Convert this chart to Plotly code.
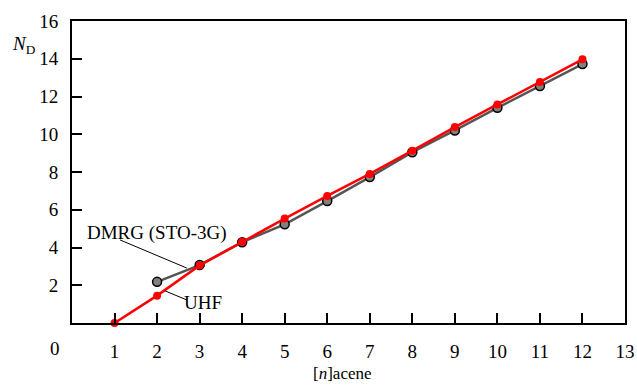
import plotly.graph_objects as go

uhf_x = [1, 2, 3, 4, 5, 6, 7, 8, 9, 10, 11, 12]
uhf_y = [0.0, 1.45, 3.05, 4.3, 5.53, 6.73, 7.9, 9.13, 10.38, 11.58, 12.77, 13.97]
dmrg_x = [2, 3, 4, 5, 6, 7, 8, 9, 10, 11, 12]
dmrg_y = [2.18, 3.07, 4.28, 5.23, 6.46, 7.73, 9.05, 10.2, 11.4, 12.55, 13.72]
x_ticks = list(range(1, 14))
y_ticks = [2, 4, 6, 8, 10, 12, 14, 16]

FONT = "Liberation Serif, Times New Roman, serif"

fig = go.Figure()
fig.add_trace(go.Scatter(x=dmrg_x, y=dmrg_y, mode="lines+markers",
                         line=dict(color="#555555", width=2.5),
                         marker=dict(size=9, color="#808080", line=dict(color="black", width=1.5)),
                         cliponaxis=False, showlegend=False))
fig.add_trace(go.Scatter(x=uhf_x, y=uhf_y, mode="lines+markers",
                         line=dict(color="#ff0000", width=2.5),
                         marker=dict(size=8, color="#ff0000"),
                         cliponaxis=False, showlegend=False))

# leader lines
fig.add_shape(type="line", x0=1.13, y0=4.40, x1=2.70, y1=2.91, line=dict(color="black", width=1))
fig.add_shape(type="line", x0=2.19, y0=1.70, x1=2.70, y1=1.22, line=dict(color="black", width=1))

fig.add_annotation(x=2.0, y=4.75, text="DMRG (STO-3G)", showarrow=False,
                   font=dict(family=FONT, size=19, color="black"))
fig.add_annotation(x=3.08, y=1.11, text="UHF", showarrow=False,
                   font=dict(family=FONT, size=19, color="black"))
fig.add_annotation(x=0, y=0, xref="x", yref="y", text="0", showarrow=False,
                   xshift=-17, yshift=-25, font=dict(family=FONT, size=19, color="black"))
fig.add_annotation(x=0, y=0.92, xref="paper", yref="paper", text="<i>N</i><sub>D</sub>",
                   xanchor="right", yanchor="middle", xshift=-34,
                   showarrow=False, font=dict(family=FONT, size=19, color="black"))
fig.add_annotation(x=0.49, y=-0.168, xref="paper", yref="paper", text="[<i>n</i>]acene",
                   yanchor="middle", showarrow=False,
                   font=dict(family=FONT, size=17, color="black"))

fig.update_layout(
    width=637, height=385,
    margin=dict(l=72, r=12, t=21, b=62, autoexpand=False),
    plot_bgcolor="white", paper_bgcolor="white",
    font=dict(family=FONT, size=19, color="black"),
    xaxis=dict(range=[0, 13], tickvals=x_ticks, ticks="inside", ticklen=10, tickwidth=1.5,
               tickcolor="black", showline=True, linecolor="black", linewidth=2, mirror=True,
               showgrid=False, zeroline=False, ticklabelstandoff=10, automargin=False),
    yaxis=dict(range=[0, 16], tickvals=y_ticks, ticks="inside", ticklen=10, tickwidth=1.5,
               tickcolor="black", showline=True, linecolor="black", linewidth=2, mirror=True,
               showgrid=False, zeroline=False, ticklabelstandoff=8, automargin=False),
)

fig.write_html("out.html")
